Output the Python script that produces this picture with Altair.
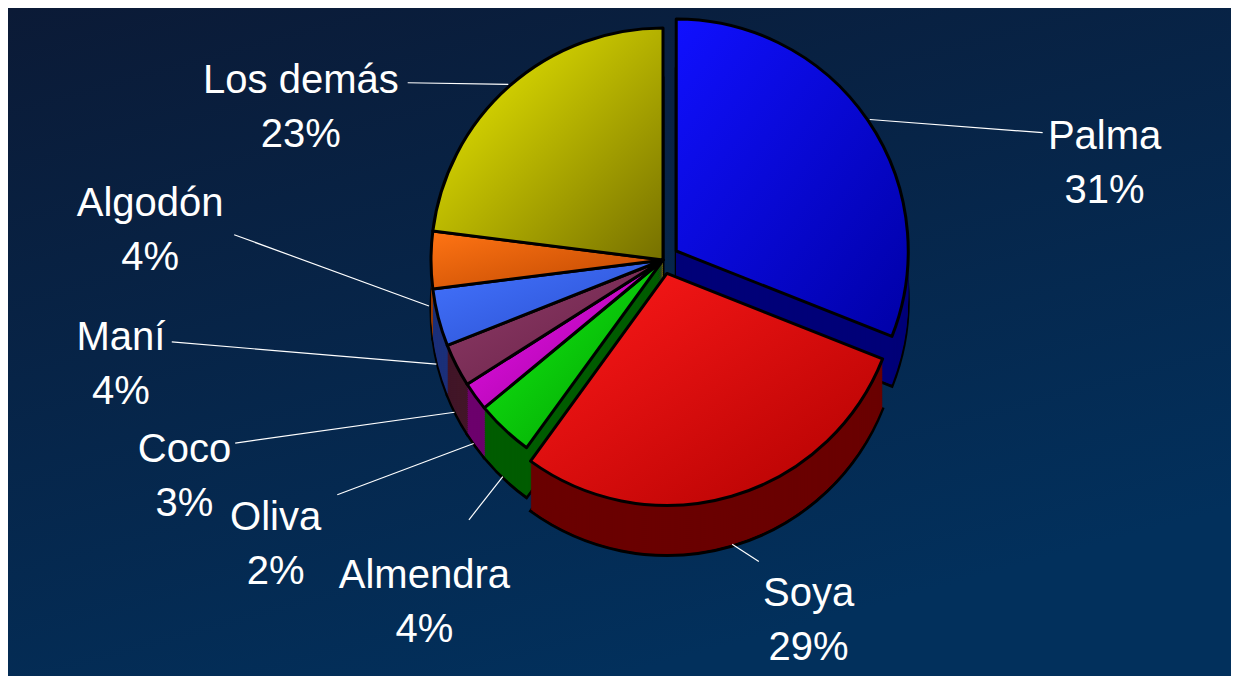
import altair as alt
import pandas as pd

# ---- data ----
names = ["Palma", "Soya", "Almendra", "Oliva", "Coco", "Maní", "Algodón", "Los demás"]
values = [31, 29, 4, 2, 3, 4, 4, 23]
order = [1, 2, 3, 4, 5, 6, 7, 8]

# ---- styles ----
top_light = ["#1010ff", "#ff1a1a", "#14f014", "#ee14ee", "#903c68", "#4474ff", "#ff7414", "#f2f200"]
top_dark = ["#0000a6", "#b00000", "#009c00", "#9c009c", "#662046", "#284ccc", "#bc4600", "#767000"]
side_colors = ["#000078", "#6a0000", "#005c00", "#6c006c", "#421628", "#1c307a", "#963a00", "#6a6600"]

df = pd.DataFrame({"name": names, "value": values, "order": order})
df["label"] = [f"{n}\n{v}%" for n, v in zip(names, values)]

W, H = 1223, 668
CX, CY, R, DEPTH = 655, 252, 232, 50
LX, LY, A, B = 650, 298, 540, 300
SPREAD = 1.8
TWO_PI = 6.283185307179586
FS = 40


def grad(c1, c2, x2=1, y2=1):
    return alt.LinearGradient(
        gradient="linear",
        stops=[alt.GradientStop(color=c1, offset=0), alt.GradientStop(color=c2, offset=1)],
        x1=0, y1=0, x2=x2, y2=y2,
    )


base = (
    alt.Chart(df)
    .transform_joinaggregate(total="sum(value)")
    .transform_window(cum="sum(value)", sort=[alt.SortField("order")], frame=[None, 0])
    .transform_calculate(
        start="(datum.cum - datum.value) / datum.total * 100",
        end="datum.cum / datum.total * 100",
    )
    .transform_calculate(
        mid=f"(datum.start + datum.end) / 200 * {TWO_PI}",
        explode="datum.name == 'Palma' ? 16 : (datum.name == 'Soya' ? 14 : 0)",
        small="datum.value < 10 ? 1 : 0",
    )
    .transform_calculate(
        cx=f"{CX} + datum.explode * sin(datum.mid)",
        cy=f"{CY} - datum.explode * cos(datum.mid)",
    )
)

theta = alt.Theta("start:Q", scale=alt.Scale(domain=[0, 100], range=[0, TWO_PI]), stack=None)
theta2 = alt.Theta2("end:Q")
xc = alt.X("cx:Q", scale=None, axis=None)
yc = alt.Y("cy:Q", scale=None, axis=None)
side_fill = alt.Fill("name:N", scale=alt.Scale(domain=names, range=side_colors), legend=None)

# background
bg = alt.Chart(alt.Data(values=[{"a": 1}])).mark_rect(
    fill=grad("#0b1a36", "#02305c", x2=0.5, y2=1)
).encode(x=alt.value(0), x2=alt.value(W), y=alt.value(0), y2=alt.value(H))

layers = [bg]

# side (extrusion) of the pie
for k in range(DEPTH, 0, -2):
    props = dict(radius=R)
    if k == DEPTH:
        props.update(stroke="black", strokeWidth=3)
    layers.append(
        base.transform_calculate(cyk=f"datum.cy + {k}")
        .mark_arc(**props)
        .encode(theta=theta, theta2=theta2, x=xc, y=alt.Y("cyk:Q", scale=None, axis=None), fill=side_fill)
    )

# top faces
for n, c1, c2 in zip(names, top_light, top_dark):
    layers.append(
        base.transform_filter(alt.datum.name == n)
        .mark_arc(radius=R, fill=grad(c1, c2), stroke="black", strokeWidth=3, strokeJoin="round")
        .encode(theta=theta, theta2=theta2, x=xc, y=yc)
    )

# leader lines and labels
lab = (
    base.transform_joinaggregate(pivot="mean(mid)", groupby=["small"])
    .transform_calculate(
        la=f"datum.small == 1 ? datum.pivot + (datum.mid - datum.pivot) * {SPREAD} : datum.mid"
    )
    .transform_calculate(
        sx=f"datum.cx + {R + 2} * sin(datum.mid)",
        sy=f"datum.cy - {R + 2} * cos(datum.mid) + (cos(datum.mid) < 0 ? {DEPTH - 4} : 0)",
        lx=f"{LX} + {A} * sin(datum.la)",
        ly=f"{LY} - {B} * cos(datum.la)",
        hw=f"length(datum.name) * {FS * 0.28}",
    )
    .transform_calculate(
        dl="sqrt(pow(datum.sx - datum.lx, 2) + pow(datum.sy - datum.ly, 2))",
    )
    .transform_calculate(
        ux="(datum.sx - datum.lx) / datum.dl",
        uy="(datum.sy - datum.ly) / datum.dl",
    )
    .transform_calculate(
        dd="min(datum.hw / max(abs(datum.ux), 0.001), 52 / max(abs(datum.uy), 0.001)) + 6",
    )
    .transform_calculate(
        ex="datum.lx + datum.ux * datum.dd",
        ey="datum.ly + datum.uy * datum.dd",
    )
)

layers.append(
    lab.mark_rule(color="white", strokeWidth=1.2).encode(
        x=alt.X("sx:Q", scale=None, axis=None),
        y=alt.Y("sy:Q", scale=None, axis=None),
        x2="ex:Q",
        y2="ey:Q",
    )
)
layers.append(
    lab.mark_text(
        font="Liberation Sans", fontSize=FS, color="white", lineBreak="\n",
        lineHeight=54, align="center", baseline="middle",
    ).encode(
        x=alt.X("lx:Q", scale=None, axis=None),
        y=alt.Y("ly:Q", scale=None, axis=None),
        text="label:N",
    )
)

chart = (
    alt.layer(*layers)
    .properties(width=W, height=H, padding=0, autosize="none", background="#0a2546")
    .configure_view(stroke=None)
)

chart.save("out.html", embed_options={"renderer": "svg", "actions": False})
